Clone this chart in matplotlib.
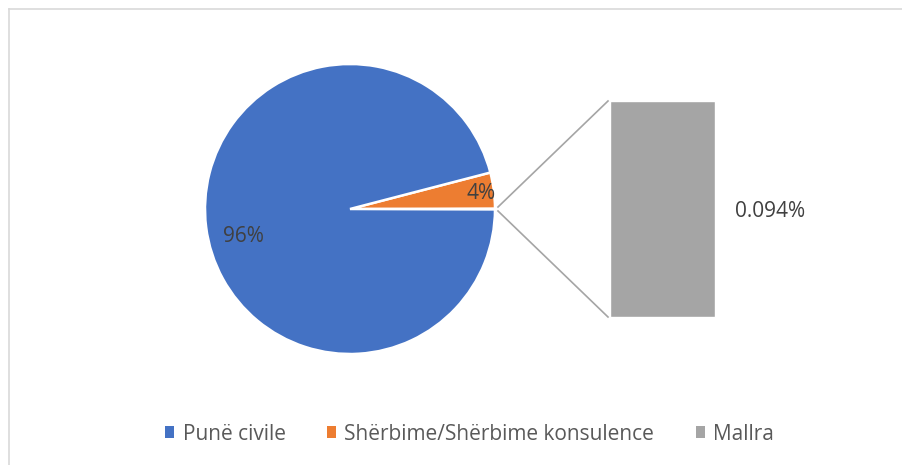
import matplotlib.pyplot as plt
from matplotlib.patches import Patch

plt.rcParams['font.family'] = ['Open Sans', 'DejaVu Sans']

# Data
categories = ["Punë civile", "Shërbime/Shërbime konsulence", "Mallra"]
shares = [95.906, 4.0, 0.094]
colors = ["#4472C4", "#ED7D31", "#A5A5A5"]
pie_labels = ["96%", "4%", ""]
bar_label = "0.094%"

W, H = 902, 465
fig = plt.figure(figsize=(W / 100, H / 100), dpi=100)
ax = fig.add_axes([0, 0, 1, 1])

# pie (Mallra slice sits at 0 degrees, then Shërbime, then Punë)
total = sum(shares)
cx, cy, r = 350, H - 209, 145
mall_ang = shares[2] / total * 360
ax.pie([shares[2], shares[1], shares[0]],
       colors=[colors[2], colors[1], colors[0]],
       center=(cx, cy), radius=r, startangle=-mall_ang / 2,
       counterclock=True, frame=True,
       wedgeprops=dict(edgecolor="white", linewidth=1.8))
ax.set_xlim(0, W)
ax.set_ylim(0, H)
ax.set_aspect("equal")
ax.axis("off")

ax.text(243, H - 236, pie_labels[0], fontsize=15, color="#404040",
        ha="center", va="center")
ax.text(481, H - 193, pie_labels[1], fontsize=15, color="#404040",
        ha="center", va="center")

# bar of the "other" group
other_total = shares[2]
bar_h = 216
bar_bottom = H - 317
ax.bar(662, shares[2] / other_total * bar_h, width=105, bottom=bar_bottom,
       color=colors[2], edgecolor="white", linewidth=1)
ax.text(770, H - 211, bar_label, fontsize=15, color="#404040",
        ha="center", va="center")

# connector lines
ax.plot([498, 608], [H - 207, H - 101], color="#A5A5A5", lw=1.2)
ax.plot([498, 608], [H - 211, H - 317], color="#A5A5A5", lw=1.2)

# chart border (left and top)
ax.plot([8.5, 8.5], [0, H - 8.5], color="#D9D9D9", lw=1.2)
ax.plot([8.5, W], [H - 8.5, H - 8.5], color="#D9D9D9", lw=1.2)

handles = [Patch(facecolor=c, edgecolor="none") for c in colors]
leg = ax.legend(handles, categories, loc="center", bbox_to_anchor=(0.5205, 1 - 434 / H),
                ncol=3, frameon=False, fontsize=15, handlelength=0.45,
                handleheight=0.45, handletextpad=0.4, columnspacing=1.98)
for t in leg.get_texts():
    t.set_color("#595959")

fig.savefig("out.png", dpi=100)
